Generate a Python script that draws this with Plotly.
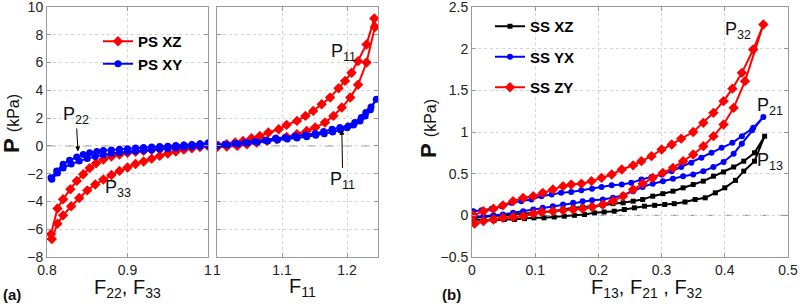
import plotly.graph_objects as go

# ---------------- data ----------------
# Panel (a) left: compression (F22, F33)
ps_xz_c_F = [1.00, 0.99, 0.98, 0.97, 0.96, 0.95, 0.94, 0.93, 0.92, 0.91, 0.90, 0.89, 0.88, 0.87, 0.86,
             0.85, 0.84, 0.83, 0.82, 0.813, 0.806,
             0.805, 0.813, 0.82, 0.829, 0.837, 0.845, 0.853, 0.861, 0.87, 0.88, 0.89, 0.90, 0.91, 0.92,
             0.93, 0.94, 0.95, 0.96, 0.97, 0.98, 0.99, 1.00]
ps_xz_c_P = [0.0, -0.08, -0.17, -0.27, -0.4, -0.55, -0.72, -0.92, -1.12, -1.3, -1.56, -1.8, -2.1, -2.42, -2.78,
             -3.2, -3.75, -4.35, -5.0, -5.6, -6.7,
             -6.35, -4.5, -3.84, -3.12, -2.52, -2.04, -1.6, -1.25, -0.98, -0.76, -0.62, -0.5, -0.42, -0.35,
             -0.28, -0.21, -0.15, -0.09, -0.03, 0.02, 0.07, 0.12]
ps_xy_c_F = [1.00, 0.99, 0.98, 0.97, 0.96, 0.95, 0.94, 0.93, 0.92, 0.91, 0.90, 0.89, 0.88, 0.87, 0.86,
             0.85, 0.84, 0.83, 0.82, 0.813, 0.806,
             0.805, 0.812, 0.82, 0.828, 0.837, 0.845, 0.853, 0.862, 0.87, 0.88, 0.89, 0.90, 0.91, 0.92,
             0.93, 0.94, 0.95, 0.96, 0.97, 0.98, 0.99, 1.00]
ps_xy_c_P = [0.02, -0.02, -0.06, -0.1, -0.15, -0.2, -0.25, -0.3, -0.34, -0.38, -0.42, -0.47, -0.54, -0.64, -0.76,
             -0.9, -1.08, -1.3, -1.6, -1.95, -2.4,
             -2.3, -1.8, -1.32, -1.03, -0.8, -0.62, -0.5, -0.4, -0.34, -0.29, -0.24, -0.2, -0.16, -0.12,
             -0.08, -0.05, -0.02, 0.02, 0.06, 0.1, 0.15, 0.2]

# Panel (a) right: tension (F11)
ps_xz_t_F = [1.0, 1.015, 1.031, 1.046, 1.061, 1.077, 1.092, 1.107, 1.123, 1.138, 1.151, 1.166, 1.179, 1.192,
             1.205, 1.217, 1.230, 1.243,
             1.242, 1.230, 1.217, 1.207, 1.197, 1.187, 1.174, 1.161, 1.148, 1.136, 1.123, 1.107, 1.095,
             1.079, 1.066, 1.053, 1.04, 1.028, 1.015, 1.002]
ps_xz_t_P = [-0.08, -0.05, 0.0, 0.12, 0.24, 0.36, 0.48, 0.65, 0.84, 1.08, 1.32, 1.68, 2.16, 2.76,
             3.48, 4.4, 6.0, 8.56,
             9.18, 7.3, 6.1, 5.27, 4.68, 4.15, 3.48, 3.0, 2.52, 2.16, 1.8, 1.51, 1.2,
             0.96, 0.72, 0.55, 0.36, 0.24, 0.12, 0.02]
ps_xy_t_F = [1.0, 1.012, 1.028, 1.043, 1.058, 1.074, 1.09, 1.105, 1.12, 1.136, 1.151, 1.164, 1.177, 1.189,
             1.202, 1.212, 1.222, 1.229, 1.237, 1.245,
             1.236, 1.228, 1.22, 1.21, 1.2, 1.19, 1.178, 1.165, 1.152, 1.138, 1.123, 1.108, 1.093,
             1.078, 1.062, 1.047, 1.032, 1.016, 1.0]
ps_xy_t_P = [0.05, 0.12, 0.17, 0.24, 0.31, 0.41, 0.55, 0.6, 0.72, 0.79, 0.89, 1.03, 1.2, 1.32,
             1.44, 1.68, 2.04, 2.4, 2.8, 3.36,
             2.6, 2.15, 1.8, 1.5, 1.3, 1.15, 1.0, 0.88, 0.76, 0.66, 0.57, 0.5, 0.43,
             0.35, 0.27, 0.2, 0.13, 0.07, 0.0]

# Panel (b): simple shear
ss_xz_F = [0.003, 0.019, 0.035, 0.051, 0.067, 0.083, 0.098, 0.114, 0.13, 0.146, 0.162, 0.178, 0.194, 0.209,
           0.225, 0.241, 0.257, 0.273, 0.289, 0.305, 0.32, 0.337, 0.353, 0.369, 0.385, 0.4, 0.417, 0.43,
           0.447, 0.463,
           0.447, 0.43, 0.414, 0.398, 0.382, 0.366, 0.35, 0.334, 0.318, 0.302, 0.286, 0.27, 0.255, 0.239,
           0.223, 0.207, 0.19, 0.175, 0.16, 0.144, 0.128, 0.112, 0.097, 0.081, 0.065, 0.049, 0.034, 0.018, 0.002]
ss_xz_P = [-0.05, -0.06, -0.06, -0.05, -0.05, -0.04, -0.03, -0.03, -0.02, -0.01, 0.0, 0.01, 0.03, 0.04,
           0.05, 0.07, 0.09, 0.11, 0.12, 0.13, 0.14, 0.16, 0.19, 0.21, 0.27, 0.33, 0.42, 0.53,
           0.65, 0.95,
           0.75, 0.65, 0.58, 0.52, 0.47, 0.41, 0.37, 0.33, 0.29, 0.26, 0.23, 0.19, 0.17, 0.15,
           0.14, 0.12, 0.11, 0.1, 0.09, 0.07, 0.05, 0.04, 0.03, 0.02, 0.01, 0.0, -0.01, -0.02, -0.03]
ss_yx_F = [0.002, 0.018, 0.034, 0.049, 0.065, 0.081, 0.097, 0.112, 0.128, 0.144, 0.16, 0.175, 0.19, 0.207,
           0.223, 0.239, 0.255, 0.27, 0.286, 0.302, 0.318, 0.334, 0.35, 0.366, 0.382, 0.398, 0.414, 0.427,
           0.443, 0.461,
           0.445, 0.427, 0.412, 0.395, 0.379, 0.363, 0.347, 0.331, 0.316, 0.3, 0.284, 0.268, 0.252, 0.237,
           0.221, 0.205, 0.19, 0.173, 0.157, 0.141, 0.126, 0.11, 0.094, 0.078, 0.062, 0.047, 0.031, 0.015, 0.002]
ss_yx_P = [-0.02, -0.01, 0.0, 0.01, 0.03, 0.05, 0.07, 0.09, 0.11, 0.13, 0.15, 0.17, 0.18, 0.19,
           0.21, 0.24, 0.29, 0.34, 0.38, 0.41, 0.44, 0.47, 0.49, 0.53, 0.58, 0.64, 0.74, 0.86,
           1.02, 1.18,
           1.05, 0.95, 0.87, 0.81, 0.75, 0.69, 0.63, 0.58, 0.53, 0.49, 0.46, 0.43, 0.39, 0.37,
           0.36, 0.34, 0.32, 0.3, 0.28, 0.27, 0.25, 0.23, 0.19, 0.17, 0.15, 0.11, 0.08, 0.06, 0.05]
ss_zy_F = [0.004, 0.018, 0.034, 0.049, 0.065, 0.081, 0.097, 0.11, 0.128, 0.144, 0.16, 0.175, 0.19, 0.207,
           0.223, 0.239, 0.255, 0.27, 0.286, 0.302, 0.318, 0.334, 0.35, 0.366, 0.382, 0.398, 0.414, 0.432,
           0.461,
           0.445, 0.427, 0.412, 0.398, 0.382, 0.366, 0.35, 0.331, 0.316, 0.3, 0.284, 0.268, 0.255, 0.237,
           0.221, 0.205, 0.189, 0.173, 0.157, 0.144, 0.128, 0.112, 0.097, 0.081, 0.065, 0.049, 0.034, 0.018, 0.002]
ss_zy_P = [-0.1, -0.07, -0.05, -0.03, -0.02, -0.01, 0.02, 0.04, 0.05, 0.06, 0.07, 0.08, 0.1, 0.13,
           0.17, 0.23, 0.31, 0.38, 0.45, 0.51, 0.57, 0.65, 0.73, 0.83, 0.95, 1.09, 1.29, 1.61,
           2.29,
           1.99, 1.71, 1.52, 1.37, 1.23, 1.11, 1.0, 0.92, 0.85, 0.79, 0.71, 0.65, 0.6, 0.55,
           0.49, 0.45, 0.41, 0.38, 0.37, 0.35, 0.31, 0.27, 0.23, 0.21, 0.17, 0.12, 0.08, 0.05, 0.0]

xticks_a1 = [0.8, 0.9, 1.0]
xticklabels_a1 = ["0.8", "0.9", "1"]
xticks_a2 = [1.0, 1.1, 1.2]
xticklabels_a2 = ["1", "1.1", "1.2"]
yticks_a = list(range(-8, 11, 2))
xticks_b = [0, 0.1, 0.2, 0.3, 0.4, 0.5]
yticks_b = [-0.5, 0, 0.5, 1, 1.5, 2, 2.5]

RED, BLUE, BLACK = "#ff0000", "#0000ff", "#000000"
FONT = "Liberation Sans, Arial, sans-serif"

fig = go.Figure()

def line(x, y, color, symbol, size, xa, ya, name, legend=None, show=False, group=None):
    fig.add_trace(go.Scatter(
        x=x, y=y, mode="lines+markers", name=name,
        line=dict(color=color, width=2),
        marker=dict(color=color, symbol=symbol, size=size, line=dict(width=0)),
        xaxis=xa, yaxis=ya, showlegend=show, legend=legend, legendgroup=group))

line(ps_xz_c_F, ps_xz_c_P, RED, "diamond", 8, "x", "y", "PS XZ", "legend", True, "a1")
line(ps_xy_c_F, ps_xy_c_P, BLUE, "circle", 7, "x", "y", "PS XY", "legend", True, "a2")
line(ps_xz_t_F, ps_xz_t_P, RED, "diamond", 8, "x2", "y2", "PS XZ", "legend", False, "a1")
line(ps_xy_t_F, ps_xy_t_P, BLUE, "circle", 7, "x2", "y2", "PS XY", "legend", False, "a2")
line(ss_xz_F, ss_xz_P, BLACK, "square", 5, "x3", "y3", "SS XZ", "legend2", True, "b1")
line(ss_yx_F, ss_yx_P, BLUE, "circle", 6, "x3", "y3", "SS YX", "legend2", True, "b2")
line(ss_zy_F, ss_zy_P, RED, "diamond", 8, "x3", "y3", "SS ZY", "legend2", True, "b3")

H = 306.0
ydom = [1 - 257 / H, 1 - 7 / H]
axcommon = dict(showline=True, linecolor="#9a9a9a", linewidth=1, mirror="ticks",
                ticks="inside", ticklen=4, tickcolor="#9a9a9a", automargin=False,
                ticklabeloverflow="allow",
                showgrid=True, gridcolor="#d4d4d4", griddash="dot", gridwidth=1,
                zeroline=False, tickfont=dict(family=FONT, size=14, color="#222222"))

fig.update_layout(
    template="none",
    width=800, height=306, margin=dict(l=0, r=0, t=0, b=0, autoexpand=False),
    paper_bgcolor="white", plot_bgcolor="white",
    xaxis=dict(domain=[47 / 800, 208 / 800], range=[0.8, 1.0], tickvals=xticks_a1,
               ticktext=xticklabels_a1, anchor="y", **axcommon),
    yaxis=dict(domain=ydom, range=[-8, 10], tickvals=yticks_a, anchor="x", **axcommon),
    xaxis2=dict(domain=[217 / 800, 378 / 800], range=[1.0, 1.2477], tickvals=xticks_a2,
                ticktext=xticklabels_a2, anchor="y2", **axcommon),
    yaxis2=dict(domain=ydom, range=[-8, 10], tickvals=yticks_a, anchor="x2",
                showticklabels=False, **axcommon),
    xaxis3=dict(domain=[472 / 800, 788 / 800], range=[0, 0.5], tickvals=xticks_b, anchor="y3",
                **axcommon),
    yaxis3=dict(domain=ydom, range=[-0.5, 2.5], tickvals=yticks_b, anchor="x3", **axcommon),
    legend=dict(x=98 / 800, y=1 - 25 / H, xanchor="left", yanchor="top", bgcolor="rgba(0,0,0,0)",
                font=dict(family=FONT, size=15, color="black", weight="bold"),
                tracegroupgap=0, itemclick=False, borderwidth=0),
    legend2=dict(x=490 / 800, y=1 - 10 / H, xanchor="left", yanchor="top", bgcolor="rgba(0,0,0,0)",
                 font=dict(family=FONT, size=15, color="black", weight="bold"),
                 tracegroupgap=8, itemclick=False, borderwidth=0),
)

# zero reference lines
for xr, yr in [("x domain", "y"), ("x2 domain", "y2"), ("x3 domain", "y3")]:
    fig.add_shape(type="line", xref=xr, yref=yr, x0=0, x1=1, y0=0, y1=0,
                  line=dict(color="#8c8c8c", width=1, dash="dash"), layer="below")

anno_font = dict(family=FONT, size=18, color="#111111")
# in-plot labels
fig.add_annotation(x=0.8385, y=-0.4, xref="x", yref="y", text="P<sub>22</sub>", showarrow=True,
                   ax=-2, ay=-36, arrowhead=2, arrowsize=1, arrowwidth=1, arrowcolor="black",
                   font=anno_font)
fig.add_annotation(x=0.888, y=-3.1, xref="x", yref="y", text="P<sub>33</sub>", showarrow=False,
                   font=anno_font)
fig.add_annotation(x=1.194, y=6.7, xref="x2", yref="y2", text="P<sub>11</sub>", showarrow=False,
                   font=anno_font)
fig.add_annotation(x=1.192, y=1.15, xref="x2", yref="y2", text="P<sub>11</sub>", showarrow=True,
                   ax=1, ay=51, arrowhead=2, arrowsize=1, arrowwidth=1, arrowcolor="black",
                   font=anno_font)
fig.add_annotation(x=0.421, y=2.22, xref="x3", yref="y3", text="P<sub>32</sub>", showarrow=False,
                   font=anno_font)
fig.add_annotation(x=0.471, y=1.31, xref="x3", yref="y3", text="P<sub>21</sub>", showarrow=False,
                   font=anno_font)
fig.add_annotation(x=0.471, y=0.65, xref="x3", yref="y3", text="P<sub>13</sub>", showarrow=False,
                   font=anno_font)

# axis titles
title_font = dict(family=FONT, size=20, color="#111111")
for txt, xc, yc in [("F<sub>22</sub>, F<sub>33</sub>", 127, 288),
                    ("F<sub>11</sub>", 302, 287),
                    ("F<sub>13</sub>, F<sub>21</sub> , F<sub>32</sub>", 646, 288)]:
    fig.add_annotation(x=xc / 800, y=1 - yc / H, xref="paper", yref="paper", text=txt,
                       showarrow=False, xanchor="center", yanchor="middle", font=title_font)

for xc, yc in [(11, 124), (428, 129)]:
    fig.add_annotation(x=xc / 800, y=1 - yc / H, xref="paper", yref="paper",
                       text="<b>P</b> <span style='font-size:16px'>(kPa)</span>",
                       textangle=-90, showarrow=False, xanchor="center", yanchor="middle",
                       font=dict(family=FONT, size=22, color="#111111"))

for txt, xc, yc in [("(a)", 12, 294), ("(b)", 452, 294)]:
    fig.add_annotation(x=xc / 800, y=1 - yc / H, xref="paper", yref="paper", text="<b>%s</b>" % txt,
                       showarrow=False, xanchor="center", yanchor="middle",
                       font=dict(family=FONT, size=15, color="#111111"))

fig.write_html("out.html", config={"displayModeBar": False},
               post_script="document.body.style.margin='0';document.body.style.padding='0';")
